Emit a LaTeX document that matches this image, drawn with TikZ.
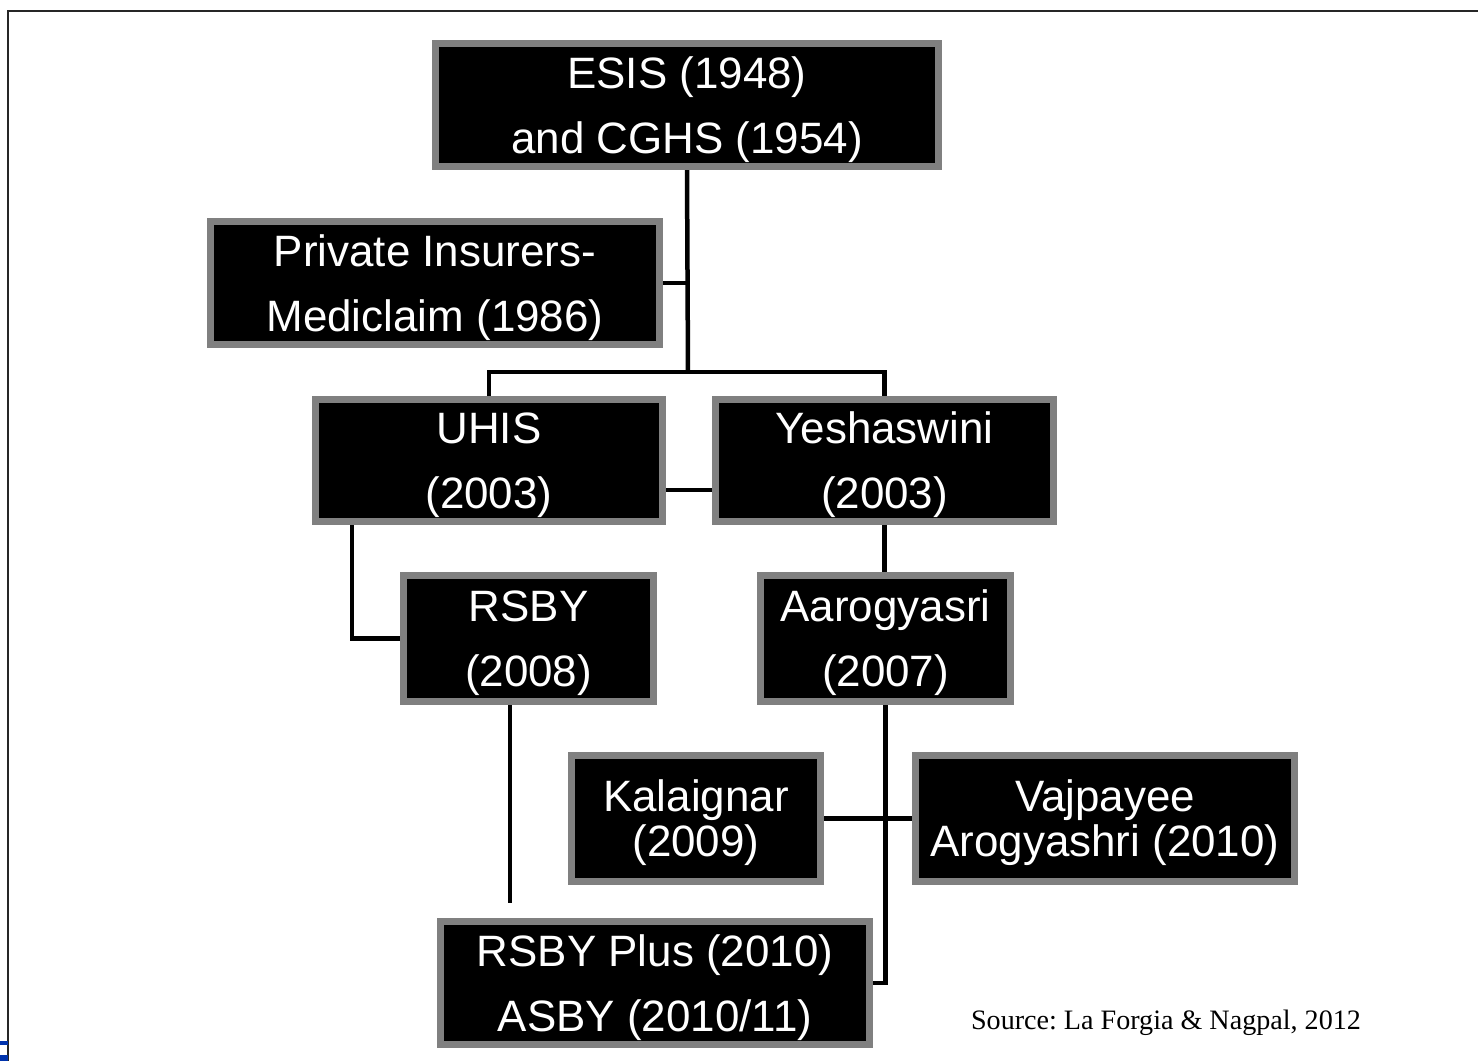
\documentclass[tikz,border=0pt]{standalone}
\usepackage{fontspec}
\setmainfont{Liberation Sans}
\newfontfamily\srcfont{Liberation Serif}
\usetikzlibrary{shadows,backgrounds}
\frenchspacing

\begin{document}
\begin{tikzpicture}
[
x=0.02cm, y=-0.02cm,
box/.style={rectangle, draw=black!50, fill=black, line width=0.14cm, text=white, align=center, inner sep=0pt,
  font=\fontsize{25}{37}\selectfont, text height=60pt,
  drop shadow={shadow xshift=0.03cm, shadow yshift=-0.07cm, opacity=0.3}},
tight/.style={font=\fontsize{25}{25.6}\selectfont, text height=48.3pt},
link/.style={line width=0.09cm, black},
frame/.style={line width=0.05cm, black!85},
src/.style={font=\srcfont\fontsize{16}{18}\selectfont, inner sep=0pt},
]
%
\useasboundingbox (0,0) rectangle (1478,1061);
\draw [frame] (8,1061) -- (8,11) -- (1478,11);
\fill [blue!60!black!80!cyan] (0,1041) rectangle (8,1045);
\fill [blue!60!black!80!cyan] (0,1055) rectangle (8,1061);

% schemes
\node [box, minimum width=10.06cm, minimum height=2.46cm] (ESIS) at (687,105) {ESIS (1948)\\and CGHS (1954)};
\node [box, minimum width=8.98cm,  minimum height=2.46cm] (PI)   at (435,283) {Private Insurers-\\Mediclaim (1986)};
\node [box, minimum width=6.94cm,  minimum height=2.44cm] (UHIS) at (489,460.5) {UHIS\\(2003)};
\node [box, minimum width=6.76cm,  minimum height=2.44cm] (YESH) at (884.5,460.5) {Yeshaswini\\(2003)};
\node [box, minimum width=5.0cm,   minimum height=2.52cm] (RSBY) at (528.5,638.5) {RSBY\\(2008)};
\node [box, minimum width=5.0cm,   minimum height=2.52cm] (AARO) at (885.5,638.5) {Aarogyasri\\(2007)};
\node [box, tight, minimum width=4.98cm, minimum height=2.52cm] (KAL) at (696,818.5) {Kalaignar\\(2009)};
\node [box, tight, minimum width=7.58cm, minimum height=2.52cm] (VAJ) at (1105,818.5) {Vajpayee\\Arogyashri (2010)};
\node [box, minimum width=8.58cm,  minimum height=2.46cm] (PLUS) at (655,983) {RSBY Plus (2010)\\ASBY (2010/11)};
%
\node [src] (SRC) at (1166,1023) {Source: La Forgia \& Nagpal, 2012};

% links
\coordinate (J1) at (688,372);
\coordinate (H1) at (690,490);
\coordinate (U1) at (352,525);
\coordinate (R1) at (510,903);
\begin{scope}[on background layer]
\draw [link] (ESIS.south) -- (J1);
\draw [link] (PI.east) -- (PI.east -| J1);
\draw [link] (UHIS.north) |- (J1) -| (YESH.north);
\draw [link] (H1 -| UHIS.east) -- (H1 -| YESH.west);
\draw [link] (UHIS.south -| U1) |- (RSBY.west);
\draw [link] (YESH.south) -- (YESH.south |- AARO.north);
\draw [link] (AARO.south) |- (PLUS.east);
\draw [link] (KAL.east) -- (VAJ.west);
\draw [link] (RSBY.south -| R1) -- (R1);
\end{scope}
%
\end{tikzpicture}
\end{document}
